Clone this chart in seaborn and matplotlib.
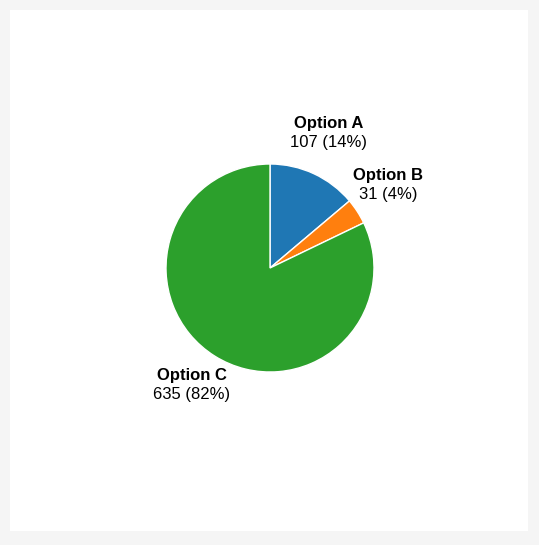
import numpy as np
import matplotlib
matplotlib.use("Agg")
import matplotlib.pyplot as plt
import seaborn as sns

categories = ["Option A", "Option B", "Option C"]
values = [107, 31, 635]

sns.set_theme(style="white")
plt.rcParams['font.family'] = ['Liberation Sans', 'DejaVu Sans']

W, H = 539, 545
fig = plt.figure(figsize=(W / 100, H / 100), dpi=100)
fig.patch.set_facecolor("#f5f5f5")
ax = fig.add_axes([0, 0, 1, 1])

# white panel
ax.add_patch(plt.Rectangle((10, H - 531), 518, 521, facecolor="white", edgecolor="none", zorder=0))

colors = sns.color_palette("tab10", 3)
cx, cy, r = 270, H - 268, 104
wedges, _ = ax.pie(values, colors=colors, startangle=90, counterclock=False,
                   center=(cx, cy), radius=r, frame=True,
                   wedgeprops=dict(edgecolor="white", linewidth=1))
ax.set_xlim(0, W)
ax.set_ylim(0, H)
ax.set_axis_off()
ax.set_aspect("equal")

total = sum(values)
for w, name, v in zip(wedges, categories, values):
    ang = np.deg2rad((w.theta1 + w.theta2) / 2)
    d = 1.38 * r
    x = cx + d * np.cos(ang)
    y = cy + d * np.sin(ang) + 5
    pct = round(100 * v / total)
    ax.text(x - 2, y + 9.5, name, ha="center", va="center", fontsize=12, fontweight="bold", color="black")
    ax.text(x - 2, y - 9.5, f"{v} ({pct}%)", ha="center", va="center", fontsize=12, color="black")

fig.savefig("out.png", dpi=100, facecolor=fig.get_facecolor())
